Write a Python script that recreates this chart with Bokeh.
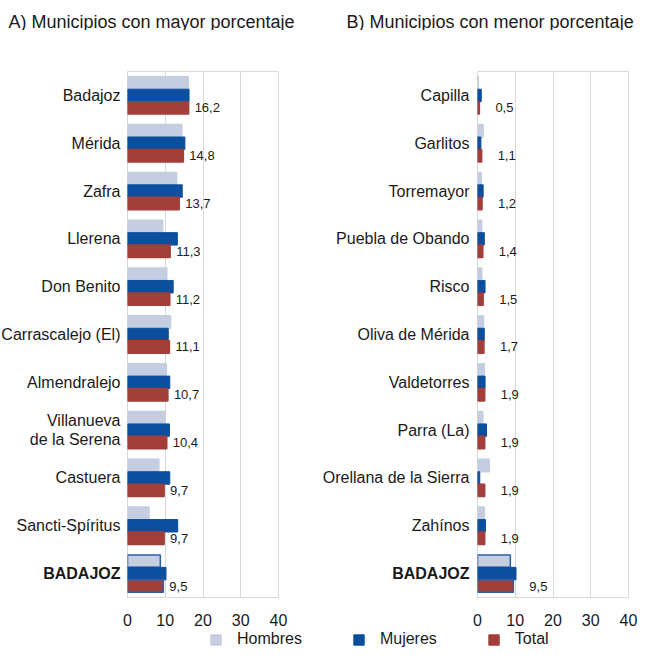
from bokeh.plotting import figure
from bokeh.models import (ColumnDataSource, FactorRange, Range1d, FixedTicker,
                          LabelSet, Label, Legend, LegendItem)
from bokeh.core.properties import value
from bokeh.transform import dodge
from bokeh.layouts import column, row
from bokeh.embed import file_html
from bokeh.resources import INLINE

# ---------------- data ----------------
cats_a = ["Badajoz", "Mérida", "Zafra", "Llerena", "Don Benito", "Carrascalejo (El)",
          "Almendralejo", "Villanueva\nde la Serena", "Castuera", "Sancti-Spíritus", "BADAJOZ"]
hombres_a = [16.1, 14.4, 13.0, 9.3, 10.4, 11.4, 10.3, 9.9, 8.3, 5.7, 8.7]
mujeres_a = [16.3, 15.2, 14.5, 13.2, 12.1, 10.8, 11.2, 11.1, 11.2, 13.3, 10.2]
total_a = [16.2, 14.8, 13.7, 11.3, 11.2, 11.1, 10.7, 10.4, 9.7, 9.7, 9.5]

cats_b = ["Capilla", "Garlitos", "Torremayor", "Puebla de Obando", "Risco", "Oliva de Mérida",
          "Valdetorres", "Parra (La)", "Orellana de la Sierra", "Zahínos", "BADAJOZ"]
hombres_b = [0.2, 1.5, 1.0, 1.1, 1.1, 1.6, 1.8, 1.4, 3.1, 1.8, 8.7]
mujeres_b = [1.0, 0.9, 1.5, 1.8, 2.0, 1.8, 2.0, 2.4, 0.6, 2.1, 10.2]
total_b = [0.5, 1.1, 1.2, 1.4, 1.5, 1.7, 1.9, 1.9, 1.9, 1.9, 9.5]

x_ticks = [0, 10, 20, 30, 40]
series_names = ["Hombres", "Mujeres", "Total"]
titles = ["A) Municipios con mayor porcentaje", "B) Municipios con menor porcentaje"]

C_H = "#c5cde0"
C_M = "#0b4f9e"
C_T = "#a33f3a"
C_EDGE = "#2a62a8"
GRID = "#d9d9d9"
FONT = "Liberation Sans"
TXT = "#1a1a1a"

FRAME_W = 151
FRAME_H = 527
TOP = 41
BOTTOM = 30
FIG_H = TOP + FRAME_H + BOTTOM


def strip(width, height):
    f = figure(width=width, height=height, output_backend="svg", toolbar_location=None,
               title=None, x_range=Range1d(0, 1), y_range=Range1d(0, 1),
               min_border_left=0, min_border_right=0, min_border_top=0, min_border_bottom=0)
    f.axis.visible = False
    f.grid.visible = False
    f.outline_line_color = None
    return f


def label_fig(cats, yr, width, dx):
    styles = ["bold" if c == "BADAJOZ" else "normal" for c in cats]
    src = ColumnDataSource(dict(cat=cats, x=[1] * len(cats), st=styles))
    f = figure(width=width, height=FIG_H, output_backend="svg", toolbar_location=None,
               title=None, x_range=Range1d(0, 1), y_range=yr,
               min_border_left=0, min_border_right=0, min_border_top=TOP,
               min_border_bottom=BOTTOM, x_axis_location=None, y_axis_location=None)
    f.grid.visible = False
    f.outline_line_color = None
    f.text(x="x", y="cat", text="cat", source=src, x_offset=dx,
           text_align="right", text_baseline="middle", text_font=value(FONT),
           text_font_size="16px", text_font_style="st", text_color=TXT,
           text_line_height=1.15)
    return f


def bar_fig(cats, h, m, t, yr, left, right, label_dx):
    fmt = [f"{v:.1f}".replace(".", ",") for v in t]
    edge_h = [C_EDGE if c == "BADAJOZ" else C_H for c in cats]
    edge_t = [C_EDGE if c == "BADAJOZ" else C_T for c in cats]
    src = ColumnDataSource(dict(cat=cats, h=h, m=m, t=t, lbl=fmt, eh=edge_h, et=edge_t))
    p = figure(width=left + FRAME_W + right, height=FIG_H, output_backend="svg",
               toolbar_location=None, title=None, y_range=yr, x_range=Range1d(0, 40),
               min_border_left=left, min_border_right=right, min_border_top=TOP,
               min_border_bottom=BOTTOM, y_axis_location=None)
    bh = 0.26
    p.hbar(y=dodge("cat", bh, range=yr), right="h", left=0, height=bh, source=src,
           fill_color=C_H, line_color="eh", line_width=1.5)
    p.hbar(y=dodge("cat", 0, range=yr), right="m", left=0, height=bh, source=src,
           fill_color=C_M, line_color=C_M, line_width=1)
    p.hbar(y=dodge("cat", -bh, range=yr), right="t", left=0, height=bh, source=src,
           fill_color=C_T, line_color="et", line_width=1.5)
    p.add_layout(LabelSet(x="t", y=dodge("cat", -bh, range=yr), text="lbl", source=src,
                          x_offset=label_dx, text_baseline="middle", text_align="left",
                          text_font=value(FONT), text_font_size="13px", text_color=TXT))
    p.xaxis.ticker = FixedTicker(ticks=x_ticks)
    p.xaxis.major_label_text_font = FONT
    p.xaxis.major_label_text_font_size = "16px"
    p.xaxis.major_label_text_color = TXT
    p.xaxis.axis_line_color = GRID
    p.xaxis.major_tick_line_color = None
    p.xaxis.minor_tick_line_color = None
    p.xaxis.major_label_standoff = 10
    p.xgrid.grid_line_color = GRID
    p.ygrid.grid_line_color = None
    p.outline_line_color = GRID
    return p


yr_a = FactorRange(factors=list(reversed(cats_a)), range_padding=0)
yr_b = FactorRange(factors=list(reversed(cats_b)), range_padding=0)

la = label_fig(cats_a, yr_a, 121, -1)
pa = bar_fig(cats_a, hombres_a, mujeres_a, total_a, yr_a, 6, 20, 6)
lb = label_fig(cats_b, yr_b, 173, -2)
pb = bar_fig(cats_b, hombres_b, mujeres_b, total_b, yr_b, 6, 10, 16)

# title strip
ts = strip(638, 30)
for txt, x in zip(titles, [8, 346]):
    ts.add_layout(Label(x=x, y=9, x_units="screen", y_units="screen", text=txt,
                        text_baseline="middle", text_align="left", text_font=FONT,
                        text_font_size="18px", text_color=TXT))

# legend strip
lf = strip(638, 22)
rs = []
for name, col in zip(series_names, [C_H, C_M, C_T]):
    rs.append(lf.rect(x=[5], y=[5], width=1, height=1, fill_color=col, line_color=col))
leg = Legend(items=[LegendItem(label=n, renderers=[r]) for n, r in zip(series_names, rs)],
             orientation="horizontal", location="left", margin=209,
             glyph_width=13, glyph_height=13,
             label_standoff=15, spacing=50, padding=0, border_line_color=None,
             background_fill_alpha=0, label_text_font=FONT, label_text_font_size="16px",
             label_text_color=TXT)
lf.add_layout(leg)

layout = column(ts, row(la, pa, lb, pb), lf, spacing=0)
open("out.html", "w").write(file_html(layout, INLINE))
